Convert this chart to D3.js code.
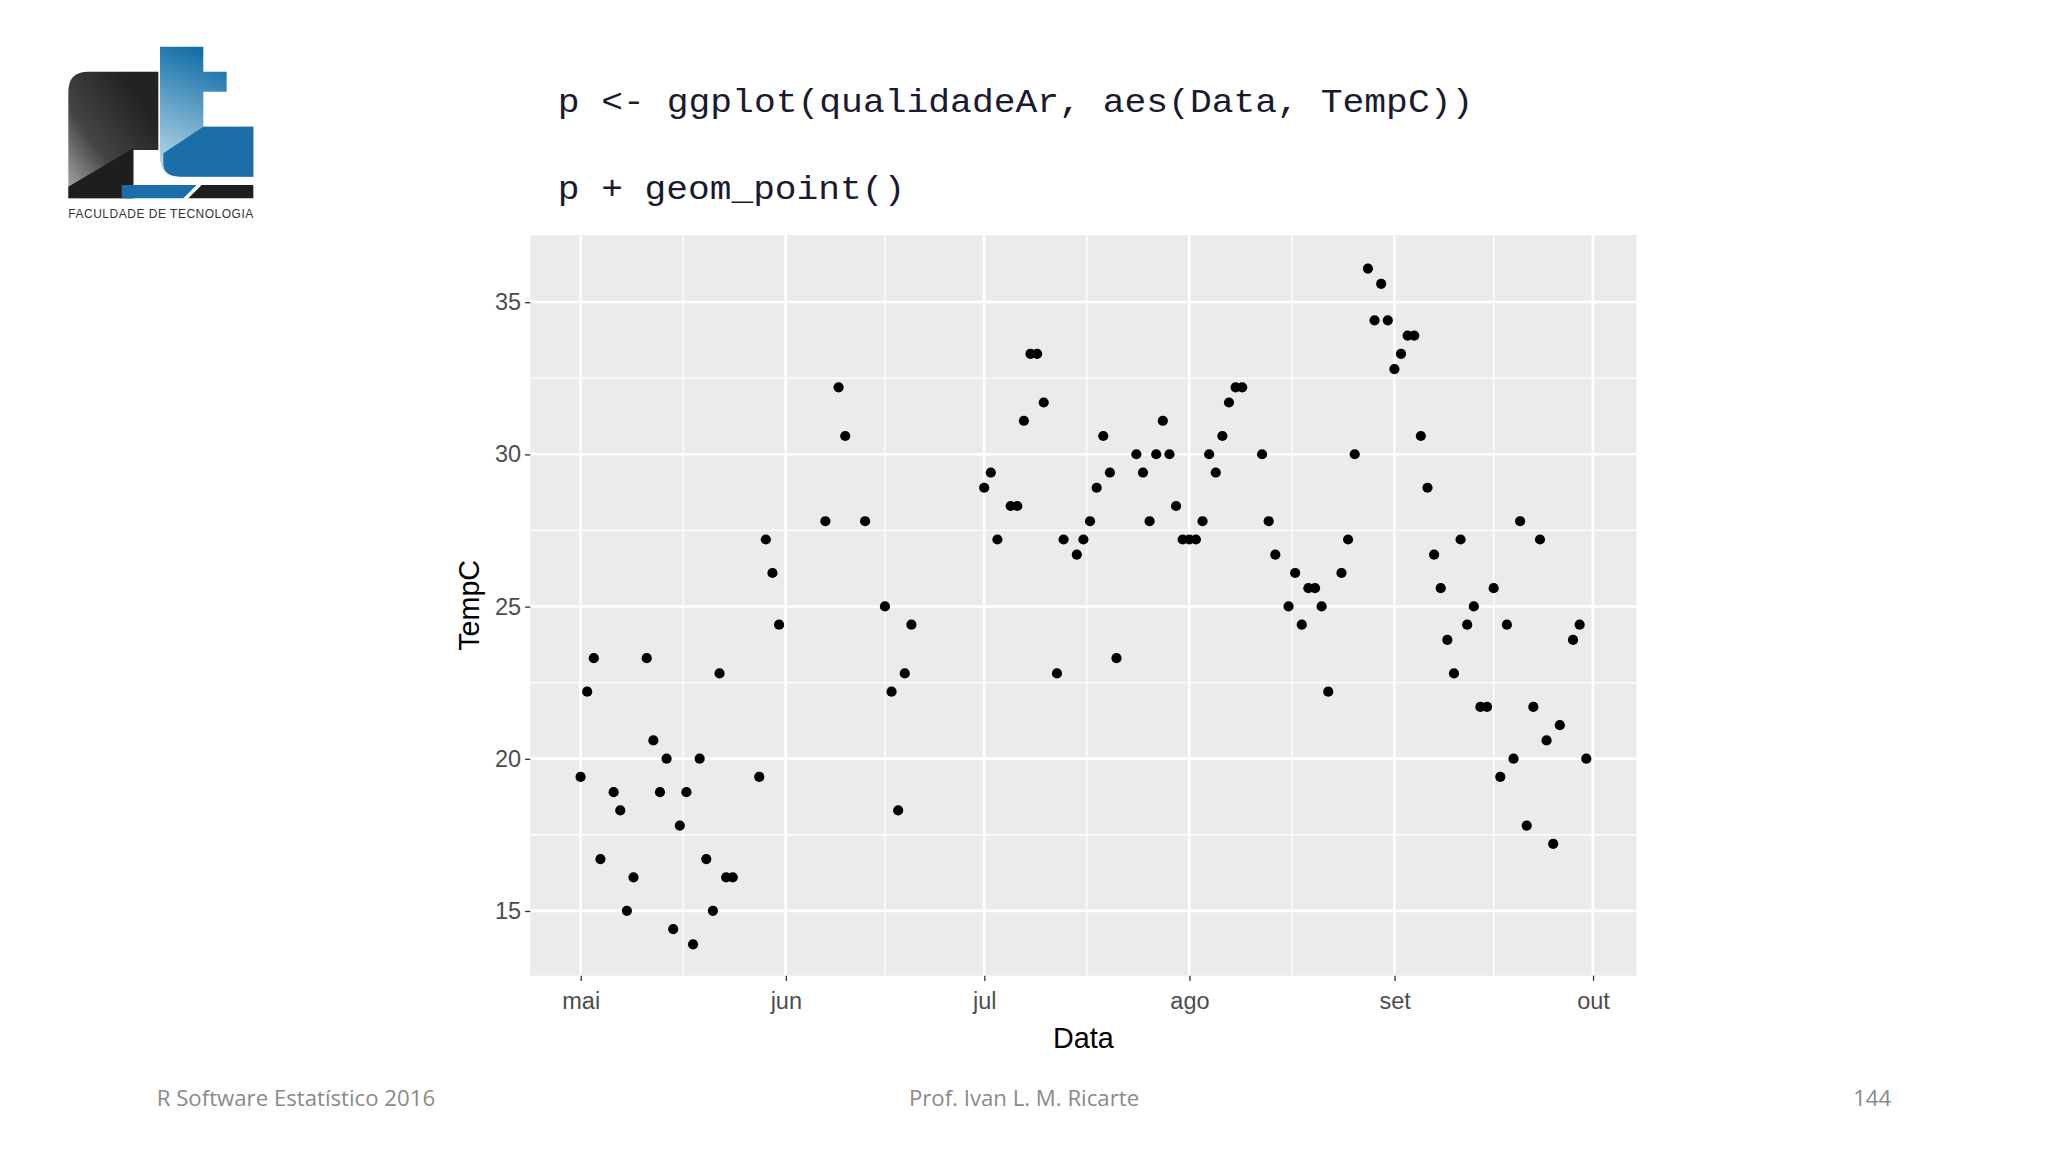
<!DOCTYPE html>
<html><head><meta charset="utf-8">
<script src="https://cdn.jsdelivr.net/npm/d3@7"></script>
<style>body{margin:0;background:#fff}svg{display:block}</style>
</head><body>
<svg id="c" width="2048" height="1152" viewBox="0 0 2048 1152"></svg>
<script>
const dates = ["05-01","05-02","05-03","05-04","05-06","05-07","05-08","05-09","05-11","05-12","05-13","05-14","05-15","05-16","05-17","05-18","05-19","05-20","05-21","05-22","05-23","05-24","05-28","05-29","05-30","05-31",
"06-07","06-09","06-10","06-13","06-16","06-17","06-18","06-19","06-20",
"07-01","07-02","07-03","07-05","07-06","07-07","07-08","07-09","07-10","07-12","07-13","07-15","07-16","07-17","07-18","07-19","07-20","07-21","07-24","07-25","07-26","07-27","07-28","07-29","07-30","07-31",
"08-01","08-02","08-03","08-04","08-05","08-06","08-07","08-08","08-09","08-12","08-13","08-14","08-16","08-17","08-18","08-19","08-20","08-21","08-22","08-24","08-25","08-26","08-28","08-29","08-30","08-31",
"09-01","09-02","09-03","09-04","09-05","09-06","09-07","09-08","09-09","09-10","09-11","09-12","09-13","09-14","09-15","09-16","09-17","09-18","09-19","09-20","09-21","09-22","09-23","09-24","09-25","09-26","09-28","09-29","09-30"];
const tempC = [19.4,22.2,23.3,16.7,18.9,18.3,15.0,16.1,23.3,20.6,18.9,20.0,14.4,17.8,18.9,13.9,20.0,16.7,15.0,22.8,16.1,16.1,19.4,27.2,26.1,24.4,
27.8,32.2,30.6,27.8,25.0,22.2,18.3,22.8,24.4,
28.9,29.4,27.2,28.3,28.3,31.1,33.3,33.3,31.7,22.8,27.2,26.7,27.2,27.8,28.9,30.6,29.4,23.3,30.0,29.4,27.8,30.0,31.1,30.0,28.3,27.2,
27.2,27.2,27.8,30.0,29.4,30.6,31.7,32.2,32.2,30.0,27.8,26.7,25.0,26.1,24.4,25.6,25.6,25.0,22.2,26.1,27.2,30.0,36.1,34.4,35.6,34.4,
32.8,33.3,33.9,33.9,30.6,28.9,26.7,25.6,23.9,22.8,27.2,24.4,25.0,21.7,21.7,25.6,19.4,24.4,20.0,27.8,17.8,21.7,27.2,20.6,17.2,21.1,23.9,24.4,20.0];
const monthTicks = ["05-01","06-01","07-01","08-01","09-01","10-01"];
const monthLabels = ["mai","jun","jul","ago","set","out"];
const yTicks = [15,20,25,30,35];

const svg = d3.select("#c");
const S = 2048/1568;
const defs = svg.append("defs");
const g1 = defs.append("linearGradient").attr("id","gF").attr("x1","0").attr("y1","1").attr("x2","0.8").attr("y2","0.2");
g1.append("stop").attr("offset","0").attr("stop-color","#b0b0b0");
g1.append("stop").attr("offset","0.45").attr("stop-color","#444");
g1.append("stop").attr("offset","1").attr("stop-color","#222");
const g2 = defs.append("linearGradient").attr("id","gT").attr("x1","0").attr("y1","1").attr("x2","0.3").attr("y2","0");
g2.append("stop").attr("offset","0").attr("stop-color","#c4e0ef");
g2.append("stop").attr("offset","1").attr("stop-color","#1570a8");
const lg = svg.append("g").attr("transform","translate(50,30) scale(0.3333)");
lg.append("path").attr("d","M55,505 V185 Q55,125 115,125 H325 V360 H250 V505 Z").attr("fill","url(#gF)");
lg.append("path").attr("d","M55,505 V470 L250,355 V505 Z").attr("fill","#1e1e1e");
lg.append("path").attr("d","M330,50 H460 V125 H530 V185 H460 V290 H610 V440 H390 Q330,440 330,380 Z").attr("fill","url(#gT)");
lg.append("path").attr("d","M340,370 L460,290 H610 V440 H390 Q340,440 340,400 Z").attr("fill","#1b6ea8");
lg.append("path").attr("d","M215,465 H440 L400,505 H215 Z").attr("fill","#1b6ea8");
lg.append("path").attr("d","M415,505 L455,465 H610 V505 Z").attr("fill","#1e1e1e");
lg.append("text").attr("x",55).attr("y",565).attr("font-family","Liberation Sans, Arial").attr("font-size",36).attr("fill","#333").attr("textLength",555).text("FACULDADE DE TECNOLOGIA");

const g = svg.append("g").attr("transform",`scale(${S})`);
const mono = "'Liberation Mono','DejaVu Sans Mono',monospace";
g.append("text").attr("x",427).attr("y",86).attr("font-family",mono).attr("font-size",26).attr("fill","#1a1a2e").attr("textLength",701).attr("lengthAdjust","spacingAndGlyphs").text("p <- ggplot(qualidadeAr, aes(Data, TempC))");
g.append("text").attr("x",427).attr("y",152).attr("font-family",mono).attr("font-size",26).attr("fill","#1a1a2e").attr("textLength",266).attr("lengthAdjust","spacingAndGlyphs").text("p + geom_point()");

const p = s => new Date(1973, +s.slice(0,2)-1, +s.slice(3));
const L=406,R=1253,T=180,B=747;
const d0 = p("05-01"), d1 = p("09-30");
const span = d1-d0;
const x = d3.scaleTime().domain([new Date(+d0-span*0.05), new Date(+d1+span*0.05)]).range([L,R]);
const y = d3.scaleLinear().domain([12.87,37.2]).range([B,T]);
g.append("rect").attr("x",L).attr("y",T).attr("width",R-L).attr("height",B-T).attr("fill","#EBEBEB");
const mt = monthTicks.map(p);
const minorX = [];
for(let i=0;i<mt.length-1;i++) minorX.push(new Date((+mt[i]+ +mt[i+1])/2));
g.selectAll(".mx").data(minorX).join("line").attr("x1",d=>x(d)).attr("x2",d=>x(d)).attr("y1",T).attr("y2",B).attr("stroke","#fff").attr("stroke-width",1);
const minorY=[17.5,22.5,27.5,32.5];
g.selectAll(".my").data(minorY).join("line").attr("y1",d=>y(d)).attr("y2",d=>y(d)).attr("x1",L).attr("x2",R).attr("stroke","#fff").attr("stroke-width",1);
g.selectAll(".Mx").data(mt).join("line").attr("x1",d=>x(d)).attr("x2",d=>x(d)).attr("y1",T).attr("y2",B).attr("stroke","#fff").attr("stroke-width",2);
g.selectAll(".My").data(yTicks).join("line").attr("y1",d=>y(d)).attr("y2",d=>y(d)).attr("x1",L).attr("x2",R).attr("stroke","#fff").attr("stroke-width",2);

const ax = g.append("g").attr("transform",`translate(0,${B})`)
  .call(d3.axisBottom(x).tickValues(mt).tickFormat((d,i)=>monthLabels[i]).tickSize(4).tickPadding(9));
const ay = g.append("g").attr("transform",`translate(${L},0)`)
  .call(d3.axisLeft(y).tickValues(yTicks).tickSize(4).tickPadding(3));
[ax,ay].forEach(a=>{a.select(".domain").remove();
  a.selectAll("line").attr("stroke","#333");
  a.selectAll("text").attr("fill","#4D4D4D").attr("font-size",18).attr("font-family","Liberation Sans, Arial");});
g.append("text").attr("x",(L+R)/2).attr("y",802).attr("text-anchor","middle").attr("font-size",22).attr("font-family","Liberation Sans, Arial").attr("fill","#000").text("Data");
g.append("text").attr("transform",`translate(367,${(T+B)/2}) rotate(-90)`).attr("text-anchor","middle").attr("font-size",22).attr("font-family","Liberation Sans, Arial").attr("fill","#000").text("TempC");

g.selectAll(".pt").data(dates).join("circle").attr("cx",d=>x(p(d))).attr("cy",(d,i)=>y(tempC[i])).attr("r",3.9).attr("fill","#000");

const ft = "'Open Sans','Noto Sans',sans-serif";
g.append("text").attr("x",120).attr("y",847).attr("font-family",ft).attr("font-size",17).attr("fill","#8a8a8a").text("R Software Estatístico 2016");
g.append("text").attr("x",784).attr("y",847).attr("text-anchor","middle").attr("font-family",ft).attr("font-size",17).attr("fill","#8a8a8a").text("Prof. Ivan L. M. Ricarte");
g.append("text").attr("x",1448).attr("y",847).attr("text-anchor","end").attr("font-family",ft).attr("font-size",17).attr("fill","#8a8a8a").text("144");
</script></body></html>
